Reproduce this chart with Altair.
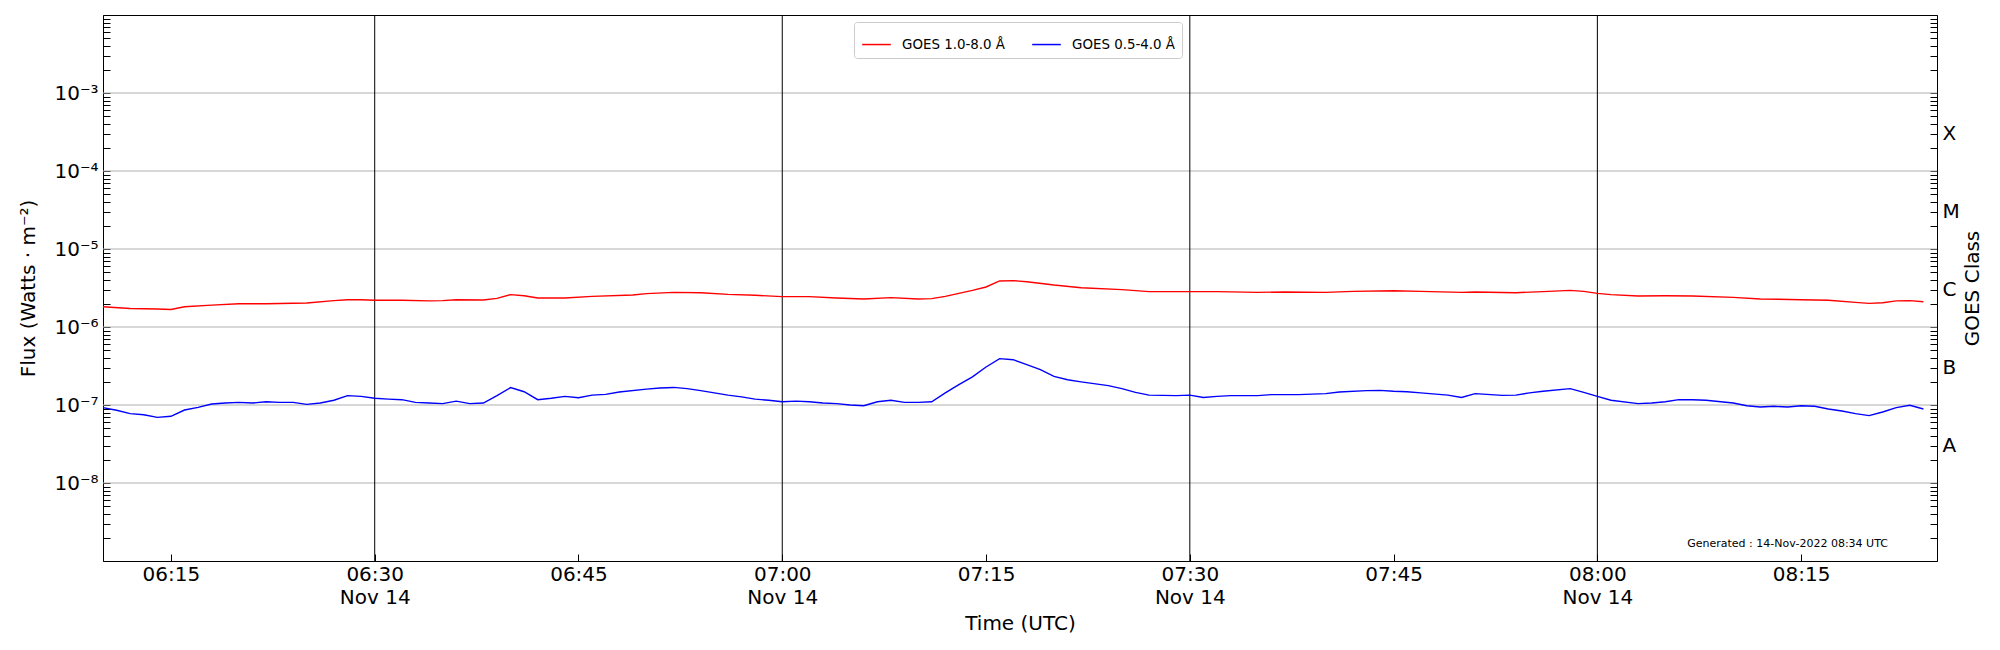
import altair as alt
import pandas as pd

DATE = "2022-11-14"
SERIES = ["GOES 1.0-8.0 Å", "GOES 0.5-4.0 Å"]
COLORS = ["#ff0000", "#0000ff"]

red_times = ["06:10", "06:12", "06:14", "06:15", "06:16", "06:18", "06:20", "06:22", "06:25", "06:27",
             "06:28", "06:29", "06:30", "06:32", "06:34", "06:35", "06:36", "06:38", "06:39", "06:40",
             "06:41", "06:42", "06:44", "06:46", "06:49", "06:50", "06:52", "06:54", "06:56", "06:58",
             "07:00", "07:02", "07:04", "07:06", "07:08", "07:10", "07:11", "07:12", "07:14", "07:15",
             "07:16", "07:17", "07:18", "07:20", "07:22", "07:25", "07:27", "07:30", "07:32", "07:35",
             "07:37", "07:40", "07:42", "07:45", "07:47", "07:50", "07:51", "07:54", "07:56", "07:58",
             "07:59", "08:00", "08:01", "08:03", "08:05", "08:07", "08:10", "08:12", "08:15", "08:17",
             "08:19", "08:20", "08:21", "08:22", "08:23", "08:24"]
red_flux = [1.82e-6, 1.73e-6, 1.70e-6, 1.68e-6, 1.82e-6, 1.91e-6, 1.99e-6, 1.99e-6, 2.03e-6, 2.18e-6,
            2.24e-6, 2.24e-6, 2.20e-6, 2.20e-6, 2.16e-6, 2.18e-6, 2.24e-6, 2.22e-6, 2.33e-6, 2.60e-6,
            2.52e-6, 2.35e-6, 2.35e-6, 2.47e-6, 2.57e-6, 2.68e-6, 2.78e-6, 2.75e-6, 2.62e-6, 2.55e-6,
            2.45e-6, 2.45e-6, 2.35e-6, 2.29e-6, 2.38e-6, 2.29e-6, 2.31e-6, 2.47e-6, 2.95e-6, 3.26e-6,
            3.89e-6, 3.93e-6, 3.80e-6, 3.45e-6, 3.19e-6, 3.01e-6, 2.84e-6, 2.84e-6, 2.84e-6, 2.78e-6,
            2.81e-6, 2.78e-6, 2.86e-6, 2.92e-6, 2.86e-6, 2.78e-6, 2.81e-6, 2.75e-6, 2.84e-6, 2.95e-6,
            2.86e-6, 2.70e-6, 2.60e-6, 2.50e-6, 2.52e-6, 2.50e-6, 2.40e-6, 2.29e-6, 2.24e-6, 2.20e-6,
            2.07e-6, 2.01e-6, 2.05e-6, 2.16e-6, 2.18e-6, 2.11e-6]

blue_times = ["06:10", "06:11", "06:12", "06:13", "06:14", "06:15", "06:16", "06:17", "06:18", "06:19",
              "06:20", "06:21", "06:22", "06:23", "06:24", "06:25", "06:26", "06:27", "06:28", "06:29",
              "06:30", "06:31", "06:32", "06:33", "06:34", "06:35", "06:36", "06:37", "06:38", "06:39",
              "06:40", "06:41", "06:42", "06:43", "06:44", "06:45", "06:46", "06:47", "06:48", "06:50",
              "06:51", "06:52", "06:53", "06:54", "06:55", "06:56", "06:57", "06:58", "06:59", "07:00",
              "07:01", "07:02", "07:03", "07:04", "07:05", "07:06", "07:07", "07:08", "07:09", "07:10",
              "07:11", "07:12", "07:13", "07:14", "07:15", "07:16", "07:17", "07:18", "07:19", "07:20",
              "07:21", "07:22", "07:24", "07:25", "07:26", "07:27", "07:29", "07:30", "07:31", "07:32",
              "07:33", "07:35", "07:36", "07:38", "07:40", "07:41", "07:43", "07:44", "07:45", "07:46",
              "07:47", "07:49", "07:50", "07:51", "07:53", "07:54", "07:55", "07:56", "07:58", "07:59",
              "08:00", "08:01", "08:03", "08:04", "08:05", "08:06", "08:07", "08:08", "08:10", "08:11",
              "08:12", "08:13", "08:14", "08:15", "08:16", "08:17", "08:18", "08:19", "08:20", "08:21",
              "08:22", "08:23", "08:24"]
blue_flux = [9.25e-8, 8.55e-8, 7.74e-8, 7.50e-8, 6.95e-8, 7.16e-8, 8.63e-8, 9.33e-8, 1.03e-7, 1.06e-7,
             1.08e-7, 1.06e-7, 1.10e-7, 1.08e-7, 1.08e-7, 1.02e-7, 1.06e-7, 1.15e-7, 1.32e-7, 1.29e-7,
             1.22e-7, 1.19e-7, 1.17e-7, 1.08e-7, 1.06e-7, 1.04e-7, 1.12e-7, 1.04e-7, 1.06e-7, 1.32e-7,
             1.67e-7, 1.48e-7, 1.17e-7, 1.22e-7, 1.29e-7, 1.24e-7, 1.34e-7, 1.37e-7, 1.47e-7, 1.60e-7,
             1.65e-7, 1.68e-7, 1.62e-7, 1.53e-7, 1.43e-7, 1.34e-7, 1.27e-7, 1.19e-7, 1.15e-7, 1.10e-7,
             1.12e-7, 1.10e-7, 1.06e-7, 1.04e-7, 1.00e-7, 9.80e-8, 1.10e-7, 1.15e-7, 1.08e-7, 1.08e-7,
             1.10e-7, 1.43e-7, 1.82e-7, 2.29e-7, 3.07e-7, 3.93e-7, 3.81e-7, 3.30e-7, 2.85e-7, 2.33e-7,
             2.11e-7, 1.98e-7, 1.77e-7, 1.62e-7, 1.45e-7, 1.34e-7, 1.32e-7, 1.34e-7, 1.25e-7, 1.29e-7,
             1.32e-7, 1.32e-7, 1.36e-7, 1.36e-7, 1.40e-7, 1.47e-7, 1.53e-7, 1.54e-7, 1.50e-7, 1.48e-7,
             1.43e-7, 1.34e-7, 1.25e-7, 1.40e-7, 1.33e-7, 1.34e-7, 1.43e-7, 1.50e-7, 1.62e-7, 1.45e-7,
             1.29e-7, 1.15e-7, 1.04e-7, 1.06e-7, 1.10e-7, 1.17e-7, 1.17e-7, 1.15e-7, 1.06e-7, 9.80e-8,
             9.42e-8, 9.62e-8, 9.42e-8, 9.80e-8, 9.62e-8, 8.89e-8, 8.38e-8, 7.74e-8, 7.30e-8, 8.13e-8,
             9.25e-8, 9.90e-8, 8.89e-8]

marker_times = ["06:30", "07:00", "07:30", "08:00"]
x_tick_times = ["06:15", "06:30", "06:45", "07:00", "07:15", "07:30", "07:45", "08:00", "08:15"]
x_range = ["06:10", "08:25"]
flux_range = [1e-9, 1e-2]
grid_decades = [1e-8, 1e-7, 1e-6, 1e-5, 1e-4, 1e-3]
label_exponents = [-8, -7, -6, -5, -4, -3]
class_letters = ["A", "B", "C", "M", "X"]
class_values = [3e-8, 3e-7, 3e-6, 3e-5, 3e-4]
note_text = "Generated : 14-Nov-2022 08:34 UTC"
note_time = "08:14"
note_flux = 1.67e-9


def ts(hm):
    return f"{DATE}T{hm}:00Z"


def dt(hm):
    h, m = hm.split(":")
    return alt.DateTime(year=2022, month=11, date=14, hours=int(h), minutes=int(m), utc=True)


df = pd.DataFrame({
    "time": [ts(t) for t in red_times] + [ts(t) for t in blue_times],
    "flux": red_flux + blue_flux,
    "series": [SERIES[0]] * len(red_times) + [SERIES[1]] * len(blue_times),
})
grid_df = pd.DataFrame({"flux": grid_decades})
marker_df = pd.DataFrame({"time": [ts(t) for t in marker_times]})
note_df = pd.DataFrame({"time": [ts(note_time)], "flux": [note_flux], "text": [note_text]})

W, H = 1834, 546
OFF = 7

log_ticks = [float(f"{m}e{e}") for e in range(-9, -2) for m in range(1, 10)] + [1e-2]

SUP = str.maketrans("-0123456789", "⁻⁰¹²³⁴⁵⁶⁷⁸⁹")
left_expr = " : ".join(
    f"datum.value == 1e{e} ? '10{str(e).translate(SUP)}'" for e in label_exponents
) + " : ''"
right_expr = " : ".join(
    f"datum.value == {v!r} ? '{c}'" for c, v in zip(class_letters, class_values)
) + " : ''"

x_scale = alt.Scale(type="utc", domain=[dt(x_range[0]), dt(x_range[1])])
y_scale = alt.Scale(type="log", domain=flux_range, nice=False)

x_axis = alt.Axis(
    values=[dt(t) for t in x_tick_times],
    labelExpr="utcminutes(datum.value) % 30 == 0 ? [utcFormat(datum.value, '%H:%M'), utcFormat(datum.value, '%b %d')] : utcFormat(datum.value, '%H:%M')",
    title="Time (UTC)", offset=-OFF, tickSize=OFF, labelPadding=3, labelLineHeight=23,
    titleX=W / 2, titleY=69, titleAlign="center", titleBaseline="middle",
)


def X(field="time"):
    return alt.X(f"{field}:T", scale=x_scale, axis=x_axis)


left_axis = alt.Axis(
    orient="left", values=log_ticks, labelExpr=left_expr, offset=-OFF, tickSize=OFF,
    labelPadding=5, title="Flux (Watts · m⁻²)", titleAngle=270, titleX=-82, titleY=H / 2,
    titleAlign="center", titleBaseline="middle",
)
right_axis = alt.Axis(
    orient="right", values=log_ticks, labelExpr=right_expr, offset=-OFF, tickSize=OFF,
    labelPadding=5, title="GOES Class", titleAngle=270, titleX=42, titleY=H / 2,
    titleAlign="center", titleBaseline="middle",
)

grid = alt.Chart(grid_df).mark_rule(color="#b0b0b0", strokeWidth=1).encode(
    y=alt.Y("flux:Q", scale=y_scale, axis=right_axis)
)
markers = alt.Chart(marker_df).mark_rule(color="black", strokeWidth=1).encode(x=X())
lines = alt.Chart(df).mark_line(strokeWidth=1.4).encode(
    x=X(),
    y=alt.Y("flux:Q", scale=y_scale, axis=left_axis),
    color=alt.Color(
        "series:N",
        scale=alt.Scale(domain=SERIES, range=COLORS),
        legend=alt.Legend(
            title=None, orient="none", legendX=751, legendY=7, direction="horizontal",
            symbolType="stroke", symbolSize=820, symbolStrokeWidth=1.5,
            labelFontSize=13.4, labelFont="DejaVu Sans", labelColor="black",
            columnPadding=24, labelOffset=10, padding=7,
            strokeColor="#cccccc", fillColor="white", cornerRadius=3, labelLimit=400,
        ),
    ),
    detail="series:N",
)
note = alt.Chart(note_df).mark_text(fontSize=11, color="black", align="center", baseline="middle").encode(
    x=X(),
    y=alt.Y("flux:Q", scale=y_scale, axis=None),
    text="text:N",
)

chart = (
    alt.layer(grid, markers, lines, note)
    .resolve_axis(y="independent")
    .properties(
        width=W, height=H,
        autosize=alt.AutoSizeParams(type="none"),
        padding={"left": 95, "top": 7, "right": 50, "bottom": 80},
    )
    .configure(font="DejaVu Sans")
    .configure_view(stroke="black", strokeWidth=1)
    .configure_axis(
        labelFont="DejaVu Sans", titleFont="DejaVu Sans", labelFontSize=20, titleFontSize=20,
        titleFontWeight="normal", labelColor="black", titleColor="black", tickColor="black",
        tickWidth=1, domain=False, grid=False, labelOverlap=False, labelFlush=False,
    )
)

chart.save("out.html", embed_options={"renderer": "svg", "actions": False})
